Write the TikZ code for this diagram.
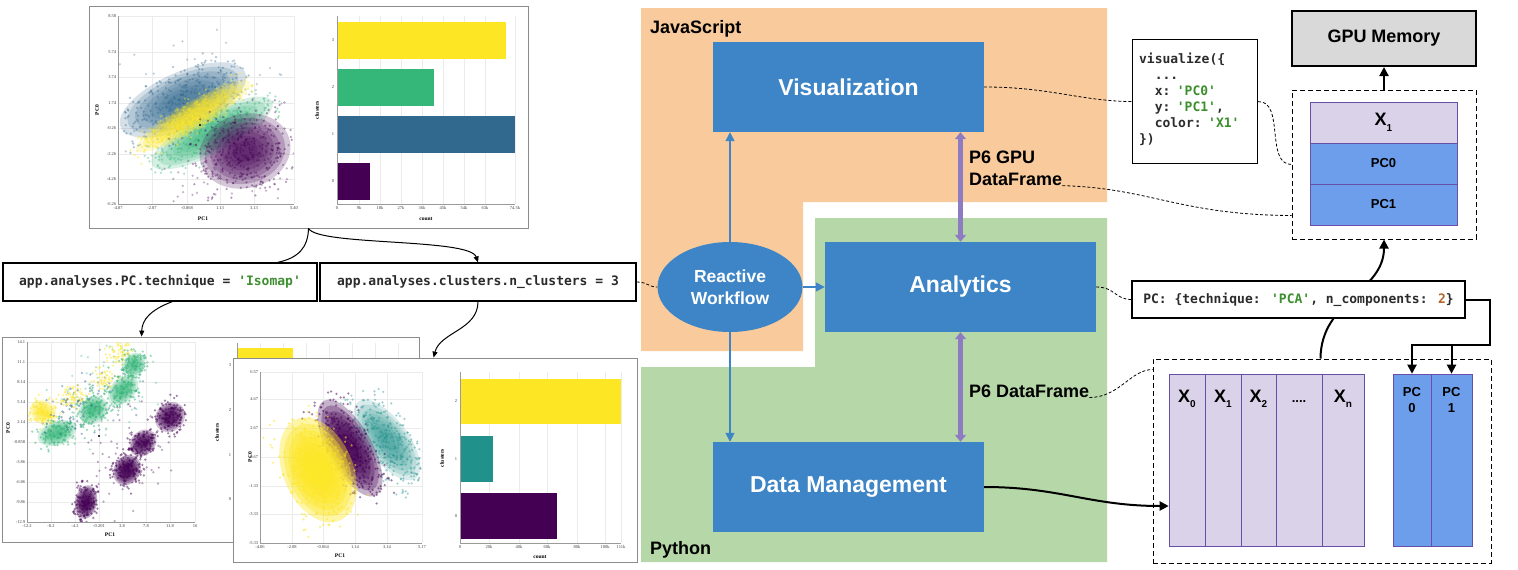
\documentclass[tikz,border=0pt]{standalone}
\usepackage{fontspec}
\setmainfont{Liberation Sans}
\newfontfamily\mono{DejaVu Sans Mono}
\newfontfamily\serifp{Liberation Serif}
\usetikzlibrary{arrows.meta,calc,shapes.geometric}
\definecolor{boxblue}{HTML}{3D85C6}
\definecolor{jsorange}{HTML}{F9CB9C}
\definecolor{pygreen}{HTML}{B6D7A8}
\definecolor{arrpurple}{HTML}{8E7CC3}
\definecolor{gpugray}{HTML}{D9D9D9}
\definecolor{lav}{HTML}{D9D2E9}
\definecolor{pcblue}{HTML}{6D9EEB}
\definecolor{colborder}{HTML}{674EA7}
\definecolor{strgreen}{HTML}{3D8F2F}
\definecolor{numorange}{HTML}{B5652B}
\definecolor{codegray}{HTML}{2B2B2B}
\definecolor{vpurple}{HTML}{440154}
\definecolor{vblue}{HTML}{31688E}
\definecolor{vteal}{HTML}{21918C}
\definecolor{vgreen}{HTML}{35B779}
\definecolor{vyellow}{HTML}{FDE725}
\definecolor{gridc}{HTML}{EBEBEB}
\definecolor{axisc}{HTML}{9A9A9A}
\definecolor{framec}{HTML}{8C8C8C}
% scatter cloud: color, cx, cy, rx, ry, angle, n, opacity
\newcommand\mycloud[8]{%
  \foreach \k in {1,...,#7}{%
    \pgfmathsetmacro\uu{(rand+rand)/2*#4}%
    \pgfmathsetmacro\vv{(rand+rand)/2*#5}%
    \fill[#1, fill opacity=#8] ({#2+\uu*cos(#6)-\vv*sin(#6)},{#3-\uu*sin(#6)-\vv*cos(#6)}) circle[radius=1.25pt];
  }}
% soft core: color, cx, cy, rx, ry, angle, opacity per layer
\newcommand\mysoft[7]{%
  \foreach \s in {1,0.88,0.76,0.64,0.52,0.4,0.28}{%
    \fill[#1, fill opacity=#7, rotate around={#6:(#2,#3)}] (#2,#3) ellipse[x radius=\s*#4, y radius=\s*#5];
  }}
\newcommand\subx[1]{\raisebox{-0.32em}{\fontsize{10}{10}\selectfont #1}}
\tikzset{
 mainbox/.style={fill=boxblue, text=white, font=\bfseries\fontsize{23}{28}\selectfont, minimum width=271pt, minimum height=90pt, inner sep=0pt},
 rwnode/.style={ellipse, fill=boxblue, text=white, font=\bfseries\fontsize{17.5}{22}\selectfont, minimum width=145pt, minimum height=90pt, inner sep=0pt, align=center},
 lbl/.style={font=\bfseries\fontsize{18}{22}\selectfont, inner sep=0pt, text=black},
 bluearrow/.style={draw=boxblue, line width=1.5pt, -{Triangle[length=9pt,width=9pt]}},
 duoarrow/.style={draw=arrpurple, line width=5pt, {Triangle[length=7pt,width=11pt]}-{Triangle[length=7pt,width=11pt]}},
 codebox/.style={draw=black, line width=1.2pt, fill=white, font=\mono\bfseries\fontsize{13}{16}\selectfont, text=codegray, inner sep=0pt},
 dashc/.style={draw=black, line width=0.8pt, dash pattern=on 3pt off 2pt},
 thickarrow/.style={draw=black, line width=2pt, -{Triangle[length=9pt,width=9pt]}},
 thinline/.style={draw=black, line width=1pt},
 thinarrow/.style={draw=black, line width=1pt, -{Triangle[length=6pt,width=5pt]}},
 frame/.style={draw=framec, line width=0.8pt, fill=white, inner sep=0pt},
 dbox/.style={draw=black, line width=1pt, dash pattern=on 5pt off 3pt, inner sep=0pt},
 rowbox/.style={draw=colborder, line width=0.6pt, minimum width=147pt, minimum height=41pt, inner sep=0pt},
 colbox/.style={draw=colborder, line width=0.6pt, minimum height=172pt, inner sep=0pt},
 collbl/.style={font=\bfseries\fontsize{18}{22}\selectfont, inner sep=0pt},
 pclbl/.style={font=\bfseries\fontsize{13}{16}\selectfont, inner sep=0pt, align=center},
 tick/.style={font=\serifp\fontsize{4.5}{5}\selectfont, text=black!75, inner sep=0.6pt},
 axtitle/.style={font=\serifp\bfseries\fontsize{5.5}{6}\selectfont, inner sep=0pt},
 gridl/.style={draw=gridc, line width=0.5pt},
 axl/.style={draw=axisc, line width=0.8pt},
}
\begin{document}
\begin{tikzpicture}[x=1pt,y=-1pt]
\pgfmathsetseed{7}
\useasboundingbox (0,0) rectangle (1518,570);
\fill[white] (0,0) rectangle (1518,570);

% ---------------- top plot ----------------
\node[frame, minimum width=439pt, minimum height=222pt] (tp) at (308.5,117) {};
\foreach \gx in {152,187,220,254,294} \draw[gridl] (\gx,16) -- (\gx,204);
\foreach \gy in {16,52,77,103,128,154,179} \draw[gridl] (118,\gy) -- (294,\gy);
\begin{scope}
\clip (118,16) rectangle (294,204);
\mycloud{vblue}{195}{105}{100}{75}{20}{90}{0.3}
\mysoft{vblue}{183}{100}{68}{28}{24}{0.2}
\mycloud{vblue}{183}{100}{80}{36}{24}{330}{0.4}
\mysoft{vgreen}{212}{133}{68}{20}{28}{0.2}
\mycloud{vgreen}{212}{133}{80}{26}{28}{260}{0.4}
\mysoft{vyellow}{193}{116}{66}{14}{31}{0.22}
\mycloud{vyellow}{193}{116}{78}{20}{31}{260}{0.45}
\mycloud{vpurple}{225}{168}{90}{42}{5}{90}{0.3}
\mysoft{vpurple}{245}{151}{46}{37}{15}{0.22}
\mycloud{vpurple}{245}{151}{58}{50}{15}{330}{0.4}
\fill[black] (200,125) circle[radius=1.2pt];
\end{scope}
\draw[axl] (118,16) -- (118,204) -- (294,204);
\foreach \v/\gy in {8.58/16,5.74/52,3.74/77,1.74/103,-0.26/128,-2.26/154,-4.26/179,-6.26/204}
  \node[tick, anchor=east] (tya\gy) at (117,\gy) {\v};
\foreach \v/\gx in {-4.87/118,-2.87/152,-0.868/187,1.13/220,3.13/254,5.40/294}
  \node[tick, anchor=north] (txa\gx) at (\gx,206) {\v};
\node[axtitle] (tpx) at (203,219) {PC1};
\node[axtitle, rotate=90] (tpy) at (97,110) {PC0};
% top bar chart
\foreach \gx in {359,380,401,422,443,464,485,515} \draw[gridl] (\gx,16) -- (\gx,204);
\fill[vyellow] (337,22) rectangle (506,59);
\fill[vgreen] (337,69) rectangle (434,106);
\fill[vblue] (337,116) rectangle (515,153);
\fill[vpurple] (337,163) rectangle (370,200);
\draw[axl] (337,16) -- (337,204) -- (515,204);
\foreach \v/\gx in {0/337,9k/359,18k/380,27k/401,36k/422,45k/443,54k/464,63k/485,74.5k/515}
  \node[tick, anchor=north] (tba\gx) at (\gx,206) {\v};
\foreach \v/\gy in {3/40,2/87,1/134,0/181}
  \node[tick, anchor=east] (tbb\gy) at (335,\gy) {\v};
\node[axtitle] (tbx) at (426,219) {count};
\node[axtitle, rotate=90] (tby) at (317,110) {clusters};

% ---------------- bottom-left plot ----------------
\node[frame, minimum width=417pt, minimum height=205pt] (blp) at (210.5,439.5) {};
\foreach \gx in {51,75,99,122,146,170,195} \draw[gridl] (\gx,342) -- (\gx,522);
\foreach \gy in {342,362,382,402,422,442,462,482,502} \draw[gridl] (27,\gy) -- (195,\gy);
\begin{scope}
\clip (27,342) rectangle (195,522);
\mycloud{vgreen}{95}{400}{75}{48}{40}{90}{0.35}
\mycloud{vblue}{95}{400}{70}{42}{40}{70}{0.45}
\mysoft{vyellow}{43}{412}{12}{14}{60}{0.2}
\mycloud{vyellow}{43}{412}{17}{20}{60}{90}{0.5}
\mycloud{vyellow}{73}{397}{15}{17}{60}{70}{0.5}
\mycloud{vyellow}{105}{380}{13}{15}{60}{50}{0.5}
\mycloud{vyellow}{120}{352}{16}{13}{30}{60}{0.5}
\mysoft{vgreen}{57}{433}{20}{12}{20}{0.2}
\mycloud{vgreen}{57}{433}{27}{17}{20}{120}{0.5}
\mysoft{vgreen}{93}{410}{16}{13}{45}{0.2}
\mycloud{vgreen}{93}{410}{23}{19}{45}{120}{0.5}
\mysoft{vgreen}{123}{390}{18}{12}{45}{0.2}
\mycloud{vgreen}{123}{390}{26}{18}{45}{110}{0.5}
\mysoft{vgreen}{134}{365}{13}{11}{60}{0.2}
\mycloud{vgreen}{134}{365}{19}{17}{60}{90}{0.5}
\mycloud{vblue}{70}{410}{42}{22}{35}{40}{0.5}
\mycloud{vpurple}{130}{462}{65}{55}{50}{70}{0.35}
\mysoft{vpurple}{86}{502}{17}{11}{80}{0.3}
\mycloud{vpurple}{86}{502}{24}{15}{80}{140}{0.5}
\mysoft{vpurple}{127}{470}{16}{13}{60}{0.3}
\mycloud{vpurple}{127}{470}{21}{18}{60}{140}{0.5}
\mysoft{vpurple}{143}{443}{15}{12}{45}{0.25}
\mycloud{vpurple}{143}{443}{20}{16}{45}{110}{0.5}
\mysoft{vpurple}{170}{417}{16}{14}{45}{0.25}
\mycloud{vpurple}{170}{417}{21}{19}{45}{140}{0.5}
\fill[black] (99,436) circle[radius=1.1pt];
\end{scope}
\draw[axl] (27,342) -- (27,522) -- (195,522);
\foreach \v/\gy in {14.1/342,11.1/362,8.14/382,5.14/402,2.14/422,-0.858/442,-3.86/462,-6.86/482,-9.86/502,-12.9/522}
  \node[tick, anchor=east] (tyb\gy) at (26,\gy) {\v};
\foreach \v/\gx in {-12.2/27,-8.2/51,-4.2/75,-0.201/99,3.8/122,7.8/146,11.8/170,16/195}
  \node[tick, anchor=north] (txb\gx) at (\gx,524) {\v};
\node[axtitle] (blx) at (110,535) {PC1};
\node[axtitle, rotate=90] (bly) at (8,428) {PC0};
\foreach \gx in {260,283,306,329,352,375,398} \draw[gridl] (\gx,343) -- (\gx,360);
\fill[vyellow] (237,348) rectangle (293,360);
\draw[axl] (237,343) -- (237,360);
\foreach \v/\gy in {3/365,2/410,1/455,0/499}
  \node[tick, anchor=east] (tbc\gy) at (232,\gy) {\v};
\node[axtitle, rotate=90] (blc) at (217,432) {clusters};

% ---------------- bottom-right plot ----------------
\node[frame, minimum width=404pt, minimum height=204pt] (brp) at (435,460) {};
\foreach \gx in {292,323,355,387,422} \draw[gridl] (\gx,372) -- (\gx,543);
\foreach \gy in {372,399,428,457,486,514} \draw[gridl] (260,\gy) -- (422,\gy);
\begin{scope}
\clip (260,372) rectangle (422,543);
\mysoft{vteal}{387}{440}{48}{21}{-53}{0.17}
\mycloud{vteal}{387}{440}{62}{30}{-53}{330}{0.4}
\mysoft{vpurple}{350}{448}{54}{22}{-61}{0.3}
\mycloud{vpurple}{350}{448}{64}{29}{-61}{330}{0.5}
\mysoft{vyellow}{318}{470}{55}{35}{-67}{0.4}
\mycloud{vyellow}{318}{470}{64}{41}{-67}{330}{0.55}
\end{scope}
\draw[axl] (260,372) -- (260,543) -- (422,543);
\foreach \v/\gy in {6.57/372,4.67/399,2.67/428,0.67/457,-1.33/486,-3.33/514,-5.33/543}
  \node[tick, anchor=east] (tyc\gy) at (259,\gy) {\v};
\foreach \v/\gx in {-4.06/260,-2.08/292,-0.064/323,1.14/355,3.14/387,5.17/422}
  \node[tick, anchor=north] (txc\gx) at (\gx,545) {\v};
\node[axtitle] (brx) at (340,556) {PC1};
\node[axtitle, rotate=90] (bry) at (250,457) {PC0};
\foreach \gx in {489,519,547,577,605,621} \draw[gridl] (\gx,372) -- (\gx,543);
\fill[vyellow] (460,379) rectangle (621,424);
\fill[vteal] (460,436) rectangle (493,482);
\fill[vpurple] (460,493) rectangle (557,539);
\draw[axl] (460,372) -- (460,543) -- (621,543);
\foreach \v/\gx in {0/460,20k/489,40k/519,60k/547,80k/577,100k/605,111k/621}
  \node[tick, anchor=north] (tbd\gx) at (\gx,545) {\v};
\foreach \v/\gy in {2/401,1/459,0/516}
  \node[tick, anchor=east] (tbe\gy) at (458,\gy) {\v};
\node[axtitle] (brc) at (540,557) {count};
\node[axtitle, rotate=90] (brd) at (442,458) {clusters};

% ---------------- code boxes (left) ----------------
\node[codebox, minimum width=314pt, minimum height=38pt] (cb1) at (160,282) {app.analyses.PC.technique = \textcolor{strgreen}{'Isomap'}};
\node[codebox, minimum width=316pt, minimum height=38pt] (cb2) at (478,282) {app.analyses.clusters.n\_clusters = 3};

\path (cb1.north east) ++(-40,0) coordinate (cb1in);
\path (cb1.south west) ++(170,0) coordinate (cb1out);
\path (blp.north west) ++(140,0) coordinate (blpIn);
\path (brp.north west) ++(201,0) coordinate (brpIn);
\draw[thinline] (tp.south) .. controls (308,248) and (298,258) .. (cb1in);
\draw[thinarrow] (tp.south) .. controls (318,246) and (470,238) .. (cb2.north);
\draw[thinarrow] (cb1out) .. controls (150,310) and (142,320) .. (blpIn);
\draw[thinarrow] (cb2.south) .. controls (478,330) and (440,332) .. (brpIn);

% ---------------- regions ----------------
\fill[jsorange] (641,8) -- (1107,8) -- (1107,202) -- (803,202) -- (803,351) -- (641,351) -- cycle;
\fill[pygreen] (815,218) -- (1107,218) -- (1107,562) -- (641,562) -- (641,367) -- (815,367) -- cycle;
\node[lbl, anchor=base west] (js) at (650,33.5) {JavaScript};
\node[lbl, anchor=base west] (py) at (650,554.5) {Python};

\node[mainbox] (viz) at (848.5,87) {Visualization};
\node[mainbox] (ana) at (960.5,287) {Analytics};
\node[mainbox] (dm) at (848.5,487) {Data Management};
\node[rwnode] (rw) at (730,287) {Reactive\\Workflow};

\draw[bluearrow] (rw.north) -- (rw.north |- viz.south);
\draw[bluearrow] (rw.south) -- (rw.south |- dm.north);
\draw[bluearrow] (rw.east) -- (ana.west);
\draw[duoarrow] (ana.north |- viz.south) -- (ana.north);
\draw[duoarrow] (ana.south) -- (ana.south |- dm.north);

\node[lbl, anchor=north west, align=left] (p6gpu) at (969,150.5) {P6 GPU\\DataFrame};
\node[lbl, anchor=west] (p6df) at (969,391) {P6 DataFrame};

\draw[dashc] (cb2.east) .. controls (648,282) and (648,287) .. (rw.west);

% ---------------- right side ----------------
\node[draw=black, line width=2pt, fill=gpugray, minimum width=184pt, minimum height=55pt, font=\bfseries\fontsize{18}{22}\selectfont, inner sep=0pt] (gpu) at (1384,38.5) {GPU Memory};
\node[dbox, minimum width=184pt, minimum height=149pt] (gpubox) at (1384,164.5) {};
\node[rowbox, fill=lav, font=\bfseries\fontsize{18}{22}\selectfont] (x1row) at (1383.5,122.5) {X\subx{1}};
\node[rowbox, fill=pcblue, font=\bfseries\fontsize{13}{16}\selectfont] (pc0row) at (1383.5,163.5) {PC0};
\node[rowbox, fill=pcblue, font=\bfseries\fontsize{13}{16}\selectfont] (pc1row) at (1383.5,204.5) {PC1};
\draw[thickarrow] (gpubox.north) -- (gpu.south);

\node[codebox, anchor=north west, minimum width=125pt, minimum height=124pt, text width=112pt, align=left] (vbox) at (1132,39) {visualize(\{\\
\hphantom{xx}...\\
\hphantom{xx}x: \textcolor{strgreen}{'PC0'}\\
\hphantom{xx}y: \textcolor{strgreen}{'PC1'},\\
\hphantom{xx}color: \textcolor{strgreen}{'X1'}\\
\})\vspace{5pt}};

\node[dbox, minimum width=338pt, minimum height=204pt] (xbox) at (1322,461) {};
\node[colbox, fill=lav, minimum width=36pt] (xc0) at (1187,460) {};
\node[colbox, fill=lav, minimum width=36pt] (xc1) at (1223,460) {};
\node[colbox, fill=lav, minimum width=35pt] (xc2) at (1258.5,460) {};
\node[colbox, fill=lav, minimum width=46pt] (xc3) at (1299,460) {};
\node[colbox, fill=lav, minimum width=42pt] (xc4) at (1343,460) {};
\node[colbox, fill=pcblue, minimum width=38pt] (pcc0) at (1412,460) {};
\node[colbox, fill=pcblue, minimum width=41pt] (pcc1) at (1451.5,460) {};
\node[collbl, anchor=base] (lx0) at (1187,402) {X\subx{0}};
\node[collbl, anchor=base] (lx1) at (1223,402) {X\subx{1}};
\node[collbl, anchor=base] (lx2) at (1258.5,402) {X\subx{2}};
\node[font=\bfseries\fontsize{13}{16}\selectfont, anchor=base, inner sep=0pt] (lx3) at (1299,402) {....};
\node[collbl, anchor=base] (lx4) at (1343,402) {X\subx{n}};
\node[pclbl, anchor=north] (lpc0) at (1412,387) {PC\\0};
\node[pclbl, anchor=north] (lpc1) at (1451.5,387) {PC\\1};

% curve from lower box through PC box up to GPU box (PC box drawn on top)
\path (xbox.north west) ++(168,0) coordinate (xboxTop);
\draw[thickarrow] (xboxTop) .. controls (1321,300) and (1384,292) .. (gpubox.south);

\node[codebox, minimum width=333pt, minimum height=37pt] (pcbox) at (1298.5,299.5) {PC: \{technique: \textcolor{strgreen}{'PCA'}, n\_components: \textcolor{numorange}{2}\}};

\coordinate (forkA) at (1490,299.5);
\coordinate (forkB) at (1490,345);
\coordinate (forkC) at (forkB -| pcc0.north);
\coordinate (forkD) at (forkB -| pcc1.north);
\draw[thickarrow] (pcbox.east) -- (forkA) -- (forkB) -- (forkC) -- (pcc0.north);
\draw[thickarrow] (forkD) -- (pcc1.north);

% dashed links
\path (gpubox.south west) ++(0,-24) coordinate (gpuIn);
\path (xbox.north west) ++(0,11) coordinate (xboxIn);
\draw[dashc] (viz.east) .. controls (1050,87) and (1080,101) .. (vbox.west);
\draw[dashc] (vbox.east) .. controls (1285,101) and (1265,164.5) .. (gpubox.west);
\draw[dashc] (p6gpu.south east) .. controls (1150,188) and (1180,215) .. (gpuIn);
\draw[dashc] (ana.east) .. controls (1115,287) and (1115,299.5) .. (pcbox.west);
\draw[dashc] (p6df.south east) .. controls (1120,397) and (1130,370) .. (xboxIn);

% thick data arrow
\path (xc0.west) ++(0,46) coordinate (xIn);
\draw[thickarrow] (dm.east) .. controls (1060,487) and (1090,506) .. (xIn);
\end{tikzpicture}
\end{document}
